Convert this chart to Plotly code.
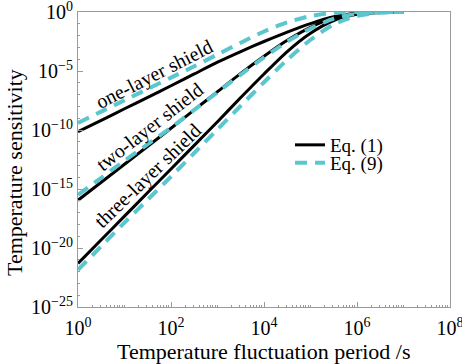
import plotly.graph_objects as go

# ---- data (log10 values) ----
period_log = [0, 0.5, 1, 1.5, 2, 2.5, 3, 3.5, 4, 4.5, 5, 5.5, 6, 6.5, 7]

one_eq1_log = [-10.15, -9.18, -8.2, -7.23, -6.25, -5.25, -4.25, -3.35, -2.5, -1.7, -0.98, -0.4, -0.09, -0.01, 0]
one_eq9_log = [-9.4, -8.44, -7.48, -6.52, -5.56, -4.6, -3.6, -2.6, -1.65, -0.88, -0.35, -0.06, 0, 0, 0]
two_eq1_log = [-15.95, -14.43, -12.9, -11.38, -9.85, -8.3, -6.75, -5.2, -3.75, -2.4, -1.3, -0.5, -0.12, -0.02, 0]
two_eq9_log = [-15.5, -14.05, -12.6, -11.2, -9.8, -8.3, -6.8, -5.3, -3.85, -2.5, -1.4, -0.56, -0.14, -0.02, 0]
three_eq1_log = [-21.3, -19.3, -17.3, -15.3, -13.3, -11.3, -9.3, -7.25, -5.25, -3.35, -1.8, -0.72, -0.2, -0.04, 0]
three_eq9_log = [-21.85, -19.85, -17.85, -15.9, -13.95, -11.95, -9.95, -7.95, -5.95, -4.05, -2.35, -1.05, -0.33, -0.06, 0]

x_tick_vals = [1e0, 1e2, 1e4, 1e6, 1e8]
x_tick_text = ["10<sup>0</sup>", "10<sup>2</sup>", "10<sup>4</sup>", "10<sup>6</sup>", "10<sup>8</sup>"]
y_tick_vals = [1e-25, 1e-20, 1e-15, 1e-10, 1e-5, 1e0]
y_tick_text = ["10<sup>−25</sup>", "10<sup>−20</sup>", "10<sup>−15</sup>", "10<sup>−10</sup>",
               "10<sup>−5</sup>", "10<sup>0</sup>"]

shield_labels = ["one-layer shield", "two-layer shield", "three-layer shield"]
series_names = ["Eq. (1)", "Eq. (9)"]
x_title = "Temperature fluctuation period /s"
y_title = "Temperature sensitivity"

x = [10 ** v for v in period_log]

BLACK = "#000000"
CYAN = "#5CC6CE"
FONT = "Liberation Serif, Noto Serif, serif"

fig = go.Figure()
eq1_curves = [one_eq1_log, two_eq1_log, three_eq1_log]
eq9_curves = [one_eq9_log, two_eq9_log, three_eq9_log]
for i, c in enumerate(eq1_curves):
    fig.add_trace(go.Scatter(
        x=x, y=[10 ** v for v in c], mode="lines", name=series_names[0],
        legend="legend", showlegend=(i == 0),
        line=dict(color=BLACK, width=3, shape="spline", smoothing=0.7)))
for i, c in enumerate(eq9_curves):
    fig.add_trace(go.Scatter(
        x=x, y=[10 ** v for v in c], mode="lines", name=series_names[1],
        legend="legend2", showlegend=(i == 0),
        line=dict(color=CYAN, width=4, dash="12px,8px", shape="spline", smoothing=0.7)))

L, R, T, B = 78, 12, 12, 57
W, H = 462, 364
pw, ph = W - L - R, H - T - B


def px2paper(px, py):
    return (px - L) / pw, 1 - (py - T) / ph


label_pos = [(154, 74, -27), (149, 127, -38), (147, 176, -44)]
for text, (px, py, ang) in zip(shield_labels, label_pos):
    ax_, ay_ = px2paper(px, py)
    fig.add_annotation(x=ax_, y=ay_, xref="paper", yref="paper", text=text,
                       showarrow=False, textangle=ang,
                       font=dict(family=FONT, size=20, color="black"),
                       xanchor="center", yanchor="middle")

# axis titles as annotations for exact placement
tx, ty = px2paper(264, 351)
fig.add_annotation(x=tx, y=ty, xref="paper", yref="paper", text=x_title, showarrow=False,
                   font=dict(family=FONT, size=22, color="black"),
                   xanchor="center", yanchor="middle")
tx, ty = px2paper(15, 173)
fig.add_annotation(x=tx, y=ty, xref="paper", yref="paper", text=y_title, showarrow=False,
                   textangle=-90, font=dict(family=FONT, size=22, color="black"),
                   xanchor="center", yanchor="middle")

axis_common = dict(
    type="log", showgrid=False, zeroline=False, automargin=False,
    showline=True, linecolor="#9a9a9a", linewidth=1, mirror=True,
    ticks="inside", ticklen=5, tickcolor="#9a9a9a",
    ticklabeloverflow="allow",
    tickfont=dict(family=FONT, size=20, color="black"),
)

l1x, l1y = px2paper(290, 126)
l2x, l2y = px2paper(290, 144)
legend_common = dict(xanchor="left", yanchor="top",
                     font=dict(family=FONT, size=19, color="black"),
                     bgcolor="rgba(0,0,0,0)", borderwidth=0)
fig.update_layout(
    width=W, height=H,
    margin=dict(l=L, r=R, t=T, b=B),
    paper_bgcolor="white", plot_bgcolor="white",
    showlegend=True,
    legend=dict(x=l1x, y=l1y, **legend_common),
    legend2=dict(x=l2x, y=l2y, **legend_common),
    xaxis=dict(range=[0, 8], tickmode="array", tickvals=x_tick_vals, ticktext=x_tick_text,
               ticklabelstandoff=3,
               minor=dict(ticks="inside", ticklen=2, dtick="D1", tickcolor="#9a9a9a"),
               **axis_common),
    yaxis=dict(range=[-25, 0], tickmode="array", tickvals=y_tick_vals, ticktext=y_tick_text,
               minor=dict(ticks="inside", ticklen=2, dtick=1, tickcolor="#9a9a9a"),
               **axis_common),
)

fig.write_html("out.html", config={"displayModeBar": False},
               post_script="document.body.style.margin='0px';")
